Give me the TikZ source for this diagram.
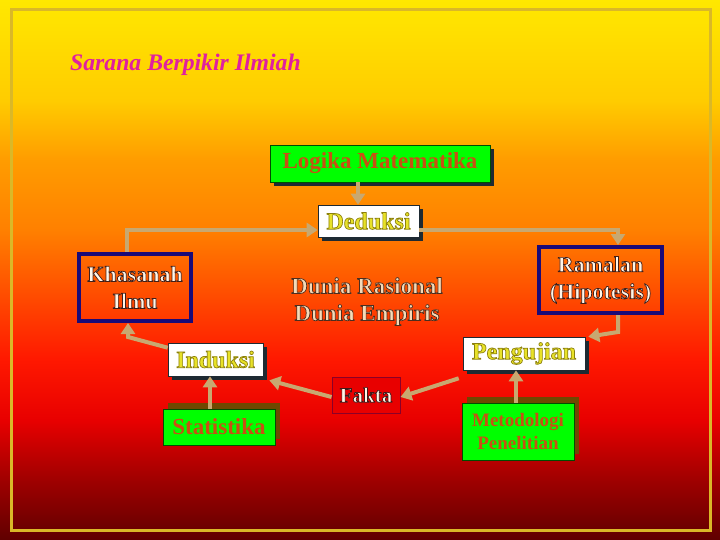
\documentclass[tikz,border=0pt]{standalone}
\usepackage{fontspec}
\setmainfont{Liberation Serif}
\usetikzlibrary{arrows.meta,shadows,positioning}

\definecolor{bgA}{RGB}{96,0,0}
\definecolor{bgB}{RGB}{160,0,0}
\definecolor{bgC}{RGB}{232,0,0}
\definecolor{bgD}{RGB}{255,24,0}
\definecolor{bgE}{RGB}{255,80,0}
\definecolor{bgF}{RGB}{255,128,0}
\definecolor{bgG}{RGB}{255,156,0}
\definecolor{bgH}{RGB}{255,204,0}
\definecolor{bgI}{RGB}{255,232,0}
\definecolor{framegold}{RGB}{218,184,40}
\definecolor{titlemagenta}{RGB}{224,32,160}
\definecolor{boxgreen}{RGB}{0,255,0}
\definecolor{textbrown}{RGB}{200,80,20}
\definecolor{shadowdark}{RGB}{30,42,50}
\definecolor{shadowbrown}{RGB}{110,72,0}
\definecolor{boxnavy}{RGB}{26,10,120}
\definecolor{arrowtan}{RGB}{200,168,112}
\definecolor{textyellow}{RGB}{232,226,40}
\definecolor{textcream}{RGB}{255,246,232}
\definecolor{textbeige}{RGB}{244,218,184}
\definecolor{faktared}{RGB}{232,0,0}
\definecolor{faktaline}{RGB}{140,0,40}

\pgfdeclareverticalshading{slidebg}{100bp}{color(0bp)=(bgA); color(25bp)=(bgA);
  color(30.6bp)=(bgB); color(36.1bp)=(bgC); color(41.7bp)=(bgD); color(48.1bp)=(bgE);
  color(53.7bp)=(bgF); color(60.2bp)=(bgG); color(65.7bp)=(bgH); color(75bp)=(bgI);
  color(100bp)=(bgI)}

% filled text with a dark outline
\newcommand{\strokedtext}[2]{\special{pdf:literal direct #1 RG 2 Tr 0.7 w}#2\special{pdf:literal direct 0 Tr}}

\begin{document}
\begin{tikzpicture}[x=1pt,y=-1pt]
  \tikzset{plainbox/.style = {inner sep=0pt, align=center}}
  \tikzset{whitebox/.style = {plainbox, fill=white, draw=shadowdark, line width=0.6pt, text=textyellow,
      font=\bfseries\fontsize{24}{28}\selectfont,
      drop shadow={shadow xshift=4pt, shadow yshift=-4pt, fill=shadowdark, opacity=1}}}
  \tikzset{greenbox/.style = {plainbox, fill=boxgreen, draw=green!30!black, line width=0.6pt, text=textbrown,
      font=\bfseries\fontsize{23}{27}\selectfont}}
  \tikzset{upshadow/.style = {drop shadow={shadow xshift=5pt, shadow yshift=6pt, fill=shadowbrown, opacity=1}}}
  \tikzset{navybox/.style = {plainbox, draw=boxnavy, line width=4pt, text=textcream,
      font=\bfseries\fontsize{22}{27}\selectfont}}
  \tikzset{%
  tipA/.tip={Triangle[width=14pt,length=11pt]},
  }
  \tikzset{edge/.style = {draw=arrowtan, line width=4pt, -tipA}}

  % slide background and frame
  \shade[shading=slidebg] (0,0) rectangle (720,540);
  \draw[framegold, line width=3pt] (11,10) rectangle (710,530);
  \useasboundingbox (0,0) rectangle (720,540);

  \node[anchor=base west, inner sep=0pt, text=titlemagenta,
    font=\bfseries\itshape\fontsize{23.7}{26}\selectfont] (TI) at (70,71) {Sarana Berpikir Ilmiah};

  \node[greenbox, minimum width=220pt, minimum height=37pt,
    drop shadow={shadow xshift=4pt, shadow yshift=-4pt, fill=shadowdark, opacity=1}] (LM) at (380,163.5) {Logika Matematika};
  \node[whitebox, minimum width=101pt, minimum height=32pt] (DE) at (368.5,221) {\strokedtext{0.55 0.5 0.05}{Deduksi}};

  \node[navybox, minimum width=112pt, minimum height=67pt] (KH) at (135,287.5) {\strokedtext{0.25 0.12 0.1}{Khasanah\\Ilmu}};
  \node[navybox, minimum width=123pt, minimum height=66pt] (RA) at (600.5,280) {\strokedtext{0.25 0.12 0.1}{Ramalan\\(Hipotesis)}};

  \node[plainbox, text=textbeige, font=\bfseries\fontsize{23}{27}\selectfont] (DU) at (367,301.5)
    {\strokedtext{0.3 0.18 0.12}{Dunia Rasional\\Dunia Empiris}};

  \node[whitebox, minimum width=122pt, minimum height=33pt] (PE) at (524,353.5) {\strokedtext{0.55 0.5 0.05}{Pengujian}};
  \node[whitebox, minimum width=95pt, minimum height=33pt] (IN) at (215.5,359.5) {\strokedtext{0.55 0.5 0.05}{Induksi}};

  \node[plainbox, fill=faktared, draw=faktaline, line width=1pt, text=textcream,
    minimum width=68pt, minimum height=36pt, font=\bfseries\fontsize{21}{24}\selectfont] (FA) at (366,395)
    {\strokedtext{0.25 0.1 0.1}{Fakta}};

  \node[greenbox, upshadow, minimum width=112pt, minimum height=36pt] (ST) at (219,427) {Statistika};
  \node[greenbox, upshadow, minimum width=112pt, minimum height=57pt,
    font=\bfseries\fontsize{19}{23}\selectfont] (ME) at (518,431.5) {Metodologi\\Penelitian};

  % connectors
  \draw[edge] ([xshift=-22pt]LM.south) -- ([xshift=-22pt]LM.south |- DE.north);
  \draw[edge] ([xshift=-8pt]KH.north) |- ([yshift=-9pt]DE.west);
  \draw[edge] ([yshift=-9pt]DE.east) -| ([xshift=17.5pt]RA.north);
  \draw[edge] ([xshift=17.5pt]RA.south) -- ++(0,17) -- ([xshift=3pt]PE.north east);
  \draw[edge] ([xshift=-2pt]ME.north) -- ([xshift=-2pt]ME.north |- PE.south);
  \draw[edge] ([shift={(-4pt,-8pt)}]PE.south west) -- ([yshift=-2pt]FA.east);
  \draw[edge] ([yshift=-2pt]FA.west) -- ([shift={(6pt,-4pt)}]IN.south east);
  \draw[edge] ([xshift=-9pt]ST.north) -- ([xshift=-9pt]ST.north |- IN.south);
  \draw[edge] ([yshift=-5pt]IN.north west) -- ([shift={(-7pt,-14pt)}]KH.south) -- ([xshift=-7pt]KH.south);
\end{tikzpicture}
\end{document}
